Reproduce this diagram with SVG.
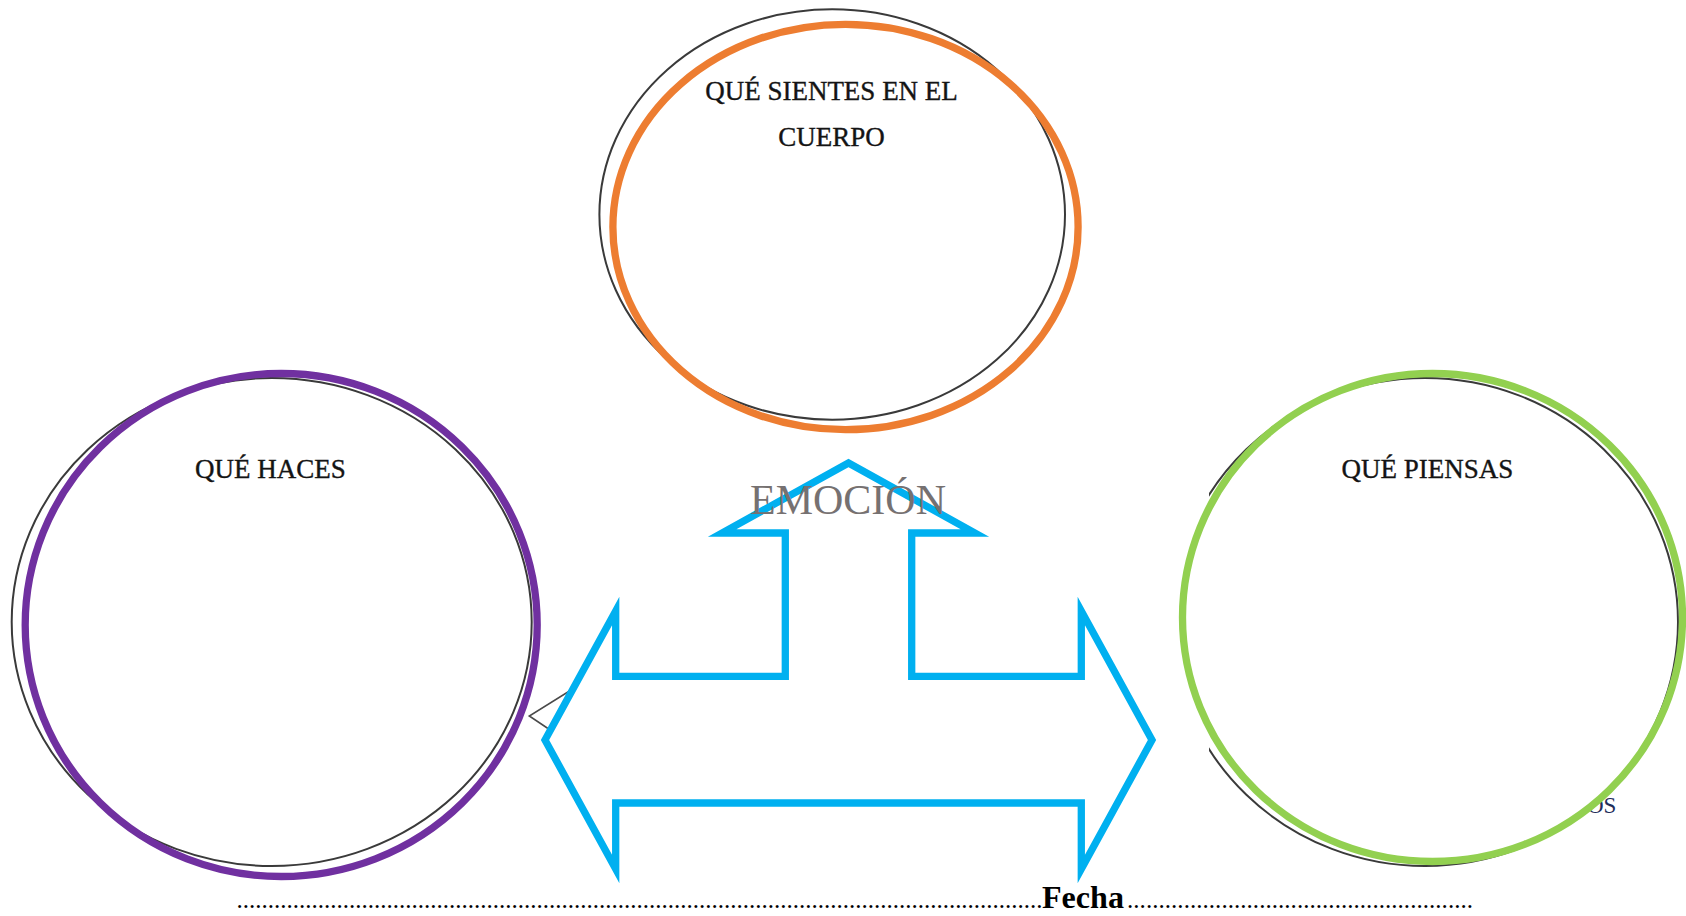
<svg xmlns="http://www.w3.org/2000/svg" width="1686" height="916" viewBox="0 0 1686 916">
<style>
.lbl{font-family:"Liberation Serif","Times New Roman",serif;font-size:27px;fill:#141414;stroke:#141414;stroke-width:0.35;text-anchor:middle}
.thin{fill:none;stroke:#3a3a3a;stroke-width:2}
.ring{fill:none;stroke-width:7.3}
</style>
<defs>
<clipPath id="clipRight"><rect x="1209" y="0" width="477" height="916"/></clipPath>
</defs>
<rect width="1686" height="916" fill="#ffffff"/>

<g id="node-cuerpo">
<ellipse class="thin" cx="832.2" cy="214.5" rx="232.8" ry="205.2"/>
<ellipse class="ring" stroke="#ED7D31" cx="845.5" cy="227" rx="232.6" ry="202.7"/>
<text class="lbl" x="831.5" y="100">QUÉ SIENTES EN EL</text>
<text class="lbl" x="831.5" y="146">CUERPO</text>
</g>

<g id="node-haces">
<ellipse class="thin" cx="271.7" cy="622" rx="260" ry="244"/>
<ellipse class="ring" stroke="#7030A0" cx="281.2" cy="625" rx="256" ry="251.5"/>
<text class="lbl" x="270.5" y="478">QUÉ HACES</text>
</g>

<g id="node-piensas">
<text x="1587" y="813" font-family="'Liberation Serif','Times New Roman',serif" font-size="23" fill="#1f2d5a">OS</text>
<ellipse fill="#ffffff" cx="1432.5" cy="617.5" rx="250" ry="244"/>
<ellipse class="thin" clip-path="url(#clipRight)" cx="1425" cy="622" rx="253" ry="244"/>
<ellipse class="ring" stroke="#92D050" cx="1432.5" cy="617.5" rx="250" ry="244"/>
<text class="lbl" x="1427.3" y="478">QUÉ PIENSAS</text>
</g>

<g id="connectors">
<polyline points="600,672 529.3,716 580,750" fill="none" stroke="#4a4a4a" stroke-width="1.6"/>
<polygon points="848.5,463 975,533 911.7,533 911.7,676.3 1081.3,676.3 1081.3,611 1152,740 1081.3,869 1081.3,803 615.7,803 615.7,869 545,740 615.7,611 615.7,676.3 785.3,676.3 785.3,533 722,533" fill="#ffffff" stroke="#00B0F0" stroke-width="7.3" stroke-miterlimit="10"/>
</g>

<g id="node-emocion">
<text x="848" y="514" font-family="'Liberation Serif','Times New Roman',serif" font-size="42" fill="#767171" text-anchor="middle">EMOCIÓN</text>
</g>

<g id="fecha">
<text y="908" font-family="'Liberation Serif','Times New Roman',serif" font-size="25" fill="#000000"><tspan x="236.6" textLength="806" lengthAdjust="spacing">.................................................................................................................................</tspan><tspan x="1042" font-weight="bold" font-size="31" textLength="82" lengthAdjust="spacingAndGlyphs">Fecha</tspan><tspan x="1127" textLength="346" lengthAdjust="spacing">.......................................................</tspan></text>
</g>
</svg>
